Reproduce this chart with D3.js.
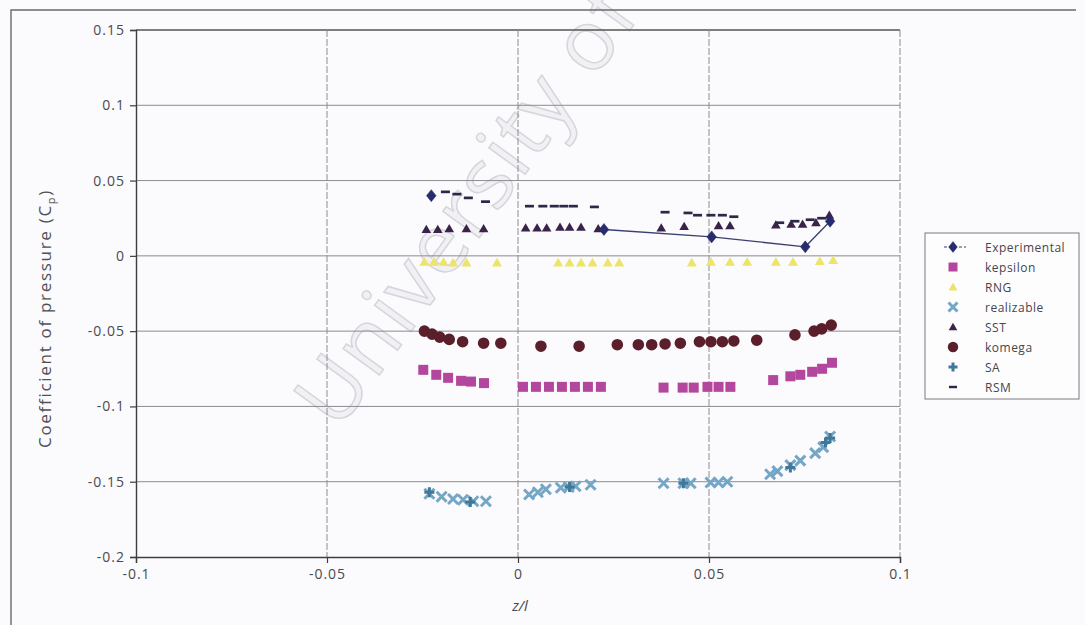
<!DOCTYPE html>
<html>
<head>
<meta charset="utf-8">
<script src="https://cdn.jsdelivr.net/npm/d3@7"></script>
<style>
  html, body { margin: 0; padding: 0; background: #fbfafc; }
  svg { display: block; }
  text { font-family: "Open Sans", "DejaVu Sans", sans-serif; }
</style>
</head>
<body>
<svg id="chart" width="1085" height="625"></svg>
<script>
// ---- data: pressure coefficient along z/l for each turbulence model ----
const xTicks = [-0.1, -0.05, 0, 0.05, 0.1];
const xTickLabels = ["-0.1", "-0.05", "0", "0.05", "0.1"];
const yTicks = [0.15, 0.1, 0.05, 0, -0.05, -0.1, -0.15, -0.2];
const yTickLabels = ["0.15", "0.1", "0.05", "0", "-0.05", "-0.1", "-0.15", "-0.2"];

const seriesNames = ["Experimental", "kepsilon", "RNG", "realizable", "SST", "komega", "SA", "RSM"];

const expZ  = [-0.0227, 0.0225, 0.0507, 0.0752, 0.0817];
const expCp = [0.0400, 0.0175, 0.0126, 0.0060, 0.0230];
const expJoined = [false, true, true, true, true];

const kepsZ  = [-0.0248, -0.0214, -0.0183, -0.0149, -0.0123, -0.0089, 0.0013, 0.0047, 0.0081, 0.0115, 0.0149, 0.0183, 0.0217,
                0.0381, 0.0431, 0.0460, 0.0496, 0.0525, 0.0556, 0.0668, 0.0713, 0.0739, 0.0770, 0.0796, 0.0822];
const kepsCp = [-0.0757, -0.0790, -0.0810, -0.0830, -0.0835, -0.0845, -0.0870, -0.0870, -0.0870, -0.0870, -0.0870, -0.0870, -0.0870,
                -0.0875, -0.0875, -0.0875, -0.0870, -0.0870, -0.0870, -0.0825, -0.0800, -0.0790, -0.0770, -0.0750, -0.0710];

const rngZ  = [-0.0245, -0.0220, -0.0195, -0.0170, -0.0135, -0.0055, 0.0105, 0.0135, 0.0165, 0.0195, 0.0235, 0.0265,
               0.0455, 0.0505, 0.0555, 0.0600, 0.0675, 0.0720, 0.0790, 0.0825];
const rngCp = [-0.0040, -0.0040, -0.0040, -0.0045, -0.0045, -0.0045, -0.0045, -0.0045, -0.0045, -0.0045, -0.0045, -0.0045,
               -0.0045, -0.0040, -0.0040, -0.0040, -0.0040, -0.0040, -0.0035, -0.0030];

const realZ  = [-0.0232, -0.0200, -0.0170, -0.0144, -0.0117, -0.0084, 0.0029, 0.0052, 0.0073, 0.0112, 0.0133, 0.0151, 0.0190,
                0.0381, 0.0433, 0.0452, 0.0504, 0.0525, 0.0548, 0.0660, 0.0679, 0.0713, 0.0739, 0.0778, 0.0799, 0.0817];
const realCp = [-0.1580, -0.1600, -0.1615, -0.1620, -0.1630, -0.1630, -0.1585, -0.1570, -0.1550, -0.1540, -0.1535, -0.1530, -0.1520,
                -0.1510, -0.1510, -0.1510, -0.1505, -0.1505, -0.1500, -0.1450, -0.1430, -0.1390, -0.1360, -0.1310, -0.1270, -0.1200];

const sstZ  = [-0.0240, -0.0210, -0.0180, -0.0135, -0.0090, 0.0020, 0.0050, 0.0075, 0.0110, 0.0135, 0.0165, 0.0210,
               0.0375, 0.0435, 0.0525, 0.0555, 0.0675, 0.0715, 0.0745, 0.0780, 0.0815];
const sstCp = [0.0175, 0.0175, 0.0180, 0.0180, 0.0180, 0.0185, 0.0185, 0.0185, 0.0190, 0.0190, 0.0190, 0.0180,
               0.0185, 0.0195, 0.0200, 0.0200, 0.0205, 0.0210, 0.0210, 0.0220, 0.0270];

const komegaZ  = [-0.0245, -0.0225, -0.0205, -0.0180, -0.0145, -0.0090, -0.0045, 0.0060, 0.0160, 0.0260, 0.0315, 0.0350,
                  0.0385, 0.0425, 0.0475, 0.0505, 0.0535, 0.0565, 0.0625, 0.0725, 0.0775, 0.0795, 0.0820];
const komegaCp = [-0.0500, -0.0520, -0.0540, -0.0555, -0.0570, -0.0580, -0.0580, -0.0600, -0.0600, -0.0590, -0.0590, -0.0590,
                  -0.0585, -0.0580, -0.0570, -0.0570, -0.0570, -0.0565, -0.0560, -0.0525, -0.0500, -0.0485, -0.0460];

const saZ  = [-0.0232, -0.0125, 0.0135, 0.0433, 0.0713, 0.0805, 0.0817];
const saCp = [-0.1570, -0.1635, -0.1535, -0.1510, -0.1405, -0.1240, -0.1210];

const rsmZ  = [-0.0190, -0.0160, -0.0130, -0.0085, 0.0030, 0.0065, 0.0095, 0.0120, 0.0145, 0.0200,
               0.0385, 0.0445, 0.0470, 0.0505, 0.0535, 0.0565, 0.0685, 0.0725, 0.0765, 0.0795];
const rsmCp = [0.0425, 0.0410, 0.0385, 0.0360, 0.0330, 0.0330, 0.0330, 0.0330, 0.0330, 0.0325,
               0.0290, 0.0285, 0.0270, 0.0270, 0.0270, 0.0260, 0.0220, 0.0230, 0.0240, 0.0250];

// ---- layout ----
const svg = d3.select("#chart");
const x = d3.scaleLinear().domain([-0.1, 0.1]).range([136, 900]);
const y = d3.scaleLinear().domain([-0.2, 0.15]).range([557, 30]);

const zip = (zs, cps) => zs.map((z, i) => ({ z, cp: cps[i], i }));

// marker path builders (centred at 0,0)
const shapes = {
  diamond: s => `M0,${-s}L${s * 0.8},0L0,${s}L${-s * 0.8},0Z`,
  square: s => `M${-s},${-s}H${s}V${s}H${-s}Z`,
  triangle: s => `M0,${-s}L${s},${s * 0.75}L${-s},${s * 0.75}Z`,
  cross: s => `M${-s},${-s}L${s},${s}M${s},${-s}L${-s},${s}`,
  plus: s => `M${-s},0H${s}M0,${-s}V${s}`,
  dash: s => `M${-s},${-s * 0.3}H${s}V${s * 0.3}H${-s}Z`,
  circle: s => d3.symbol(d3.symbolCircle, Math.PI * s * s)()
};

const styles = {
  Experimental: { shape: "diamond", size: 6,   fill: "#262c6e", stroke: "#262c6e", sw: 0.5 },
  kepsilon:     { shape: "square",  size: 5,   fill: "#b3479d", stroke: "none",    sw: 0 },
  RNG:          { shape: "triangle",size: 5,   fill: "#ece56a", stroke: "none",    sw: 0 },
  realizable:   { shape: "cross",   size: 5,   fill: "none",    stroke: "#74a6c6", sw: 3 },
  SST:          { shape: "triangle",size: 4.8, fill: "#3a2348", stroke: "none",    sw: 0 },
  komega:       { shape: "circle",  size: 5.8, fill: "#5a1f2b", stroke: "none",    sw: 0 },
  SA:           { shape: "plus",    size: 5,   fill: "none",    stroke: "#3f7898", sw: 3 },
  RSM:          { shape: "dash",    size: 4.5, fill: "#2f2747", stroke: "none",    sw: 0 }
};

// ---- watermark ----
svg.append("text")
  .attr("transform", "translate(338,432) rotate(-54)")
  .attr("font-size", 84)
  .attr("fill", "#f1f0f4")
  .attr("stroke", "#d6d5db")
  .attr("stroke-width", 1.5)
  .attr("letter-spacing", 2)
  .text("University of Malaya");

// ---- outer frame ----
svg.append("path")
  .attr("d", "M11,625V10H1076")
  .attr("fill", "none").attr("stroke", "#6a6a6e").attr("stroke-width", 1.4);

// ---- grid ----
const grid = svg.append("g");
grid.selectAll(".hg").data(yTicks.filter(v => v !== -0.2)).join("line")
  .attr("x1", x(-0.1)).attr("x2", x(0.1))
  .attr("y1", d => y(d)).attr("y2", d => y(d))
  .attr("stroke", d => d === 0.15 ? "#555" : "#8c8c90")
  .attr("stroke-width", d => d === 0.15 ? 1.3 : 1);
grid.selectAll(".vg").data(xTicks.filter(v => v !== -0.1)).join("line")
  .attr("y1", y(0.15)).attr("y2", y(-0.2))
  .attr("x1", d => x(d)).attr("x2", d => x(d))
  .attr("stroke", "#8c8c90").attr("stroke-width", 1)
  .attr("stroke-dasharray", "7,2");

// ---- axes ----
const yAxis = d3.axisLeft(y).tickValues(yTicks).tickFormat((d, i) => yTickLabels[i]).tickSize(6).tickPadding(5);
const xAxis = d3.axisBottom(x).tickValues(xTicks).tickFormat((d, i) => xTickLabels[i]).tickSize(6).tickPadding(6);

const gy = svg.append("g").attr("transform", `translate(${x(-0.1)},0)`).call(yAxis);
const gx = svg.append("g").attr("transform", `translate(0,${y(-0.2)})`).call(xAxis);
[gx, gy].forEach(g => {
  g.select(".domain").attr("stroke", "#3e3e42").attr("stroke-width", 1.4);
  g.selectAll(".tick line").attr("stroke", "#3e3e42").attr("stroke-width", 1.2);
  g.selectAll(".tick text").attr("fill", "#4a4a50").attr("font-size", 14).attr("letter-spacing", 1)
    .attr("font-family", "\"Open Sans\", \"DejaVu Sans\", sans-serif");
});

// axis titles
const yTitle = svg.append("text")
  .attr("transform", `translate(51,${(y(0.15) + y(-0.2)) / 2 + 25}) rotate(-90)`)
  .attr("text-anchor", "middle")
  .attr("font-size", 17).attr("letter-spacing", 1.7).attr("fill", "#505056");
yTitle.append("tspan").text("Coefficient of pressure (C");
yTitle.append("tspan").attr("font-size", 11).attr("dy", 4).text("p");
yTitle.append("tspan").attr("dy", -4).text(")");

svg.append("text")
  .attr("x", (x(-0.1) + x(0.1)) / 2 + 2).attr("y", 611)
  .attr("text-anchor", "middle")
  .attr("font-size", 15).attr("font-style", "italic").attr("fill", "#4a4a50")
  .text("z/l");

// ---- series ----
const plot = svg.append("g");

function drawMarkers(name, pts) {
  const st = styles[name];
  plot.append("g").selectAll("path").data(pts).join("path")
    .attr("transform", d => `translate(${x(d.z)},${y(d.cp)})`)
    .attr("d", shapes[st.shape](st.size))
    .attr("fill", st.fill)
    .attr("stroke", st.stroke)
    .attr("stroke-width", st.sw)
    .attr("stroke-linecap", "butt");
}

drawMarkers("realizable", zip(realZ, realCp));
drawMarkers("SA", zip(saZ, saCp));
drawMarkers("kepsilon", zip(kepsZ, kepsCp));
drawMarkers("komega", zip(komegaZ, komegaCp));
drawMarkers("RNG", zip(rngZ, rngCp));
drawMarkers("RSM", zip(rsmZ, rsmCp));
drawMarkers("SST", zip(sstZ, sstCp));

// experimental run: joined points plus markers
const expPts = zip(expZ, expCp);
plot.append("path")
  .datum(expPts)
  .attr("d", d3.line().defined(d => expJoined[d.i]).x(d => x(d.z)).y(d => y(d.cp)))
  .attr("fill", "none").attr("stroke", "#3b3f6e").attr("stroke-width", 1.3);
drawMarkers("Experimental", expPts);

// ---- legend ----
const lg = svg.append("g");
lg.append("rect")
  .attr("x", 925).attr("y", 233).attr("width", 154).attr("height", 166)
  .attr("fill", "#fdfdfe").attr("stroke", "#7a7a80").attr("stroke-width", 1);

const rowY = i => 247 + i * 20;
seriesNames.forEach((name, i) => {
  const st = styles[name];
  const cy = rowY(i);
  if (name === "Experimental") {
    lg.append("line").attr("x1", 944).attr("x2", 966).attr("y1", cy).attr("y2", cy)
      .attr("stroke", "#3b3f6e").attr("stroke-width", 1.2).attr("stroke-dasharray", "3,2");
  }
  lg.append("path")
    .attr("transform", `translate(953,${cy})`)
    .attr("d", shapes[st.shape](st.size * 0.9))
    .attr("fill", st.fill).attr("stroke", st.stroke).attr("stroke-width", st.sw);
  lg.append("text")
    .attr("x", 985).attr("y", cy + 4.5)
    .attr("font-size", 12).attr("letter-spacing", 0.5).attr("fill", "#46464c")
    .text(name);
});
</script>
</body>
</html>
